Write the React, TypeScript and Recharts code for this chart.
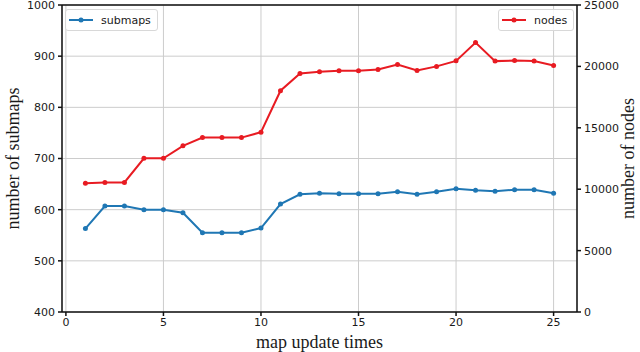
import {
  LineChart,
  Line,
  XAxis,
  YAxis,
  CartesianGrid,
  Legend,
  ReferenceLine,
  Label,
} from "recharts";

const SUBMAPS_COLOR = "#1f77b4";
const NODES_COLOR = "#e81b22";

const updates = [1, 2, 3, 4, 5, 6, 7, 8, 9, 10, 11, 12, 13, 14, 15, 16, 17, 18, 19, 20, 21, 22, 23, 24, 25];
const submaps = [563, 607, 607, 600, 600, 594, 555, 555, 555, 564, 611, 630, 632, 631, 631, 631, 635, 630, 635, 641, 638, 636, 639, 639, 632];
const nodes = [10490, 10550, 10550, 12520, 12520, 13530, 14200, 14200, 14200, 14640, 18020, 19430, 19560, 19640, 19640, 19750, 20150, 19670, 20000, 20450, 21940, 20430, 20480, 20430, 20070];

const xTicks = [0, 5, 10, 15, 20, 25];
const leftTicks = [400, 500, 600, 700, 800, 900, 1000];
const rightTicks = [0, 5000, 10000, 15000, 20000, 25000];

const data = updates.map((u, i) => ({ x: u, submaps: submaps[i], nodes: nodes[i] }));

const TICK = { fontSize: 11, fill: "#1a1a1a", fontFamily: "DejaVu Sans" };
const LABEL_FONT = { fontSize: 18, fill: "#1a1a1a", fontFamily: "Liberation Serif" };

function LegendBox({ left, name, color }: { left: number; name: string; color: string }) {
  return (
    <div
      style={{
        position: "absolute",
        left,
        top: 9,
        height: 20,
        padding: "0 6px 0 3px",
        display: "flex",
        alignItems: "center",
        border: "1px solid #d8d8d8",
        borderRadius: 3,
        background: "rgba(255,255,255,0.85)",
        fontFamily: "DejaVu Sans",
        fontSize: 11,
        color: "#1a1a1a",
        whiteSpace: "nowrap",
      }}
    >
      <svg width={24} height={8} style={{ marginRight: 8 }}>
        <line x1={0} y1={4} x2={24} y2={4} stroke={color} strokeWidth={2} />
        <circle cx={12} cy={4} r={2.5} fill={color} />
      </svg>
      {name}
    </div>
  );
}

function TwoLegends() {
  return (
    <div style={{ position: "relative", width: 640, height: 0 }}>
      <LegendBox left={65} name="submaps" color={SUBMAPS_COLOR} />
      <LegendBox left={498} name="nodes" color={NODES_COLOR} />
    </div>
  );
}

export default function App() {
  return (
    <div style={{ position: "fixed", left: 0, top: 0, background: "#fff" }}>
      <LineChart width={640} height={352} data={data} margin={{ top: 5, right: 0, bottom: 0, left: 0 }}>
        <CartesianGrid yAxisId="left" stroke="#cccccc" strokeWidth={1} />
        <XAxis
          dataKey="x"
          type="number"
          domain={[-0.2, 26.2]}
          ticks={xTicks}
          tick={TICK}
          tickSize={4}
          tickMargin={2}
          height={40}
          stroke="#111"
          strokeWidth={1.5}
          allowDataOverflow
        >
          <Label value="map update times" position="insideBottom" offset={4} style={LABEL_FONT} />
        </XAxis>
        <YAxis
          yAxisId="left"
          domain={[400, 1000]}
          ticks={leftTicks}
          tick={TICK}
          tickSize={4}
          tickMargin={3}
          width={62}
          stroke="#111"
          strokeWidth={1.5}
          interval={0}
        >
          <Label value="number of submaps" angle={-90} position="center" dx={-18} style={{ ...LABEL_FONT, textAnchor: "middle" }} />
        </YAxis>
        <YAxis
          yAxisId="right"
          orientation="right"
          domain={[0, 25000]}
          ticks={rightTicks}
          tick={TICK}
          tickSize={4}
          tickMargin={3}
          width={63}
          stroke="#111"
          strokeWidth={1.5}
          interval={0}
        >
          <Label value="number of nodes" angle={-90} position="center" dx={19} style={{ ...LABEL_FONT, textAnchor: "middle" }} />
        </YAxis>
        <ReferenceLine yAxisId="left" y={1000} stroke="#111" strokeWidth={1.5} />
        <Legend content={<TwoLegends />} verticalAlign="top" wrapperStyle={{ top: 0, left: 0, width: 640 }} />
        <Line
          yAxisId="left"
          dataKey="submaps"
          name="submaps"
          stroke={SUBMAPS_COLOR}
          strokeWidth={2}
          dot={{ r: 2.5, fill: SUBMAPS_COLOR, stroke: SUBMAPS_COLOR, strokeWidth: 0 }}
          activeDot={false}
          isAnimationActive={false}
        />
        <Line
          yAxisId="right"
          dataKey="nodes"
          name="nodes"
          stroke={NODES_COLOR}
          strokeWidth={2}
          dot={{ r: 2.5, fill: NODES_COLOR, stroke: NODES_COLOR, strokeWidth: 0 }}
          activeDot={false}
          isAnimationActive={false}
        />
      </LineChart>
    </div>
  );
}
